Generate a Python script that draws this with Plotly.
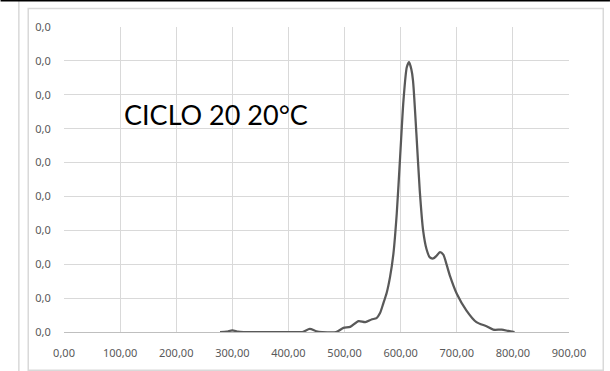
import plotly.graph_objects as go

# Data (x: wavelength-like axis, y: intensity)
x_vals = [278, 290, 300, 310, 320, 400, 425, 438, 450, 460, 485, 498, 510, 525, 537, 548, 557,
          563, 569, 575, 581, 587, 593, 599, 605, 611, 615, 619, 622, 628, 634, 640, 646,
          652, 658, 664, 670, 676, 682, 688, 700, 717, 735, 753, 765, 780, 792, 803]
y_vals = [0.0, 0.01, 0.05, 0.01, 0.0, 0.0, 0.0, 0.09, 0.02, 0.0, 0.0, 0.12, 0.15, 0.32, 0.29, 0.37, 0.41,
          0.55, 0.84, 1.15, 1.62, 2.30, 3.49, 5.16, 6.83, 7.82, 7.96, 7.75, 7.42, 5.86, 4.18, 3.00, 2.45,
          2.20, 2.17, 2.25, 2.36, 2.28, 1.98, 1.65, 1.13, 0.64, 0.29, 0.17, 0.07, 0.07, 0.03, 0.0]
y_scale = 0.001
y_vals = [v * y_scale for v in y_vals]

x_ticks = [0, 100, 200, 300, 400, 500, 600, 700, 800, 900]
y_ticks = [i * 0.001 for i in range(10)]
title_text = "CICLO 20 20°C"

W, H = 610, 371
L, R, T, B = 63.5, 569.0, 26.7, 331.7
pw, ph = R - L, B - T

def px(x):
    return (x - L) / pw

def py(y):
    return (B - y) / ph

fig = go.Figure()
fig.add_trace(go.Scatter(
    x=x_vals, y=y_vals, mode="lines",
    line=dict(color="#595959", width=2.25, shape="spline", smoothing=0.7),
    hoverinfo="skip", showlegend=False,
))

grid = "#d9d9d9"
tickfont = dict(family="Noto Sans", size=11, color="#595959")

fig.update_layout(
    width=W, height=H,
    margin=dict(l=L, r=W - R, t=T, b=H - B, pad=0),
    paper_bgcolor="white", plot_bgcolor="white",
    separators=",.",
    showlegend=False,
    xaxis=dict(range=[0, 900], tickvals=x_ticks, tickformat=".2f",
               showgrid=True, gridcolor=grid, gridwidth=1,
               zeroline=False, showline=True, linecolor="#bfbfbf", linewidth=1,
               ticks="outside", ticklen=11, tickcolor="rgba(0,0,0,0)",
               tickfont=tickfont, fixedrange=True),
    yaxis=dict(range=[0, 0.009], tickvals=y_ticks, tickformat=".1f",
               showgrid=True, gridcolor=grid, gridwidth=1,
               zeroline=False, showline=False,
               ticks="outside", ticklen=10, tickcolor="rgba(0,0,0,0)",
               tickfont=tickfont, fixedrange=True),
    annotations=[dict(text=title_text, x=px(216), y=py(114), xref="paper", yref="paper",
                      showarrow=False, xanchor="center", yanchor="middle",
                      font=dict(family="Lato", size=27, color="black"))],
    shapes=[
        dict(type="rect", xref="paper", yref="paper", x0=px(27.7), x1=px(603.3),
             y0=py(370), y1=py(8.3), line=dict(color=grid, width=1.5), layer="below"),
        dict(type="line", xref="paper", yref="paper", x0=px(18.3), x1=px(18.3),
             y0=py(0), y1=py(371), line=dict(color=grid, width=1.5)),
        dict(type="line", xref="paper", yref="paper", x0=px(0), x1=px(610),
             y0=py(0.5), y1=py(0.5), line=dict(color="black", width=1.5)),
    ],
)

fig.write_html("out.html", config={"displayModeBar": False},
               post_script="document.body.style.margin='0px';document.body.style.overflow='hidden';")
